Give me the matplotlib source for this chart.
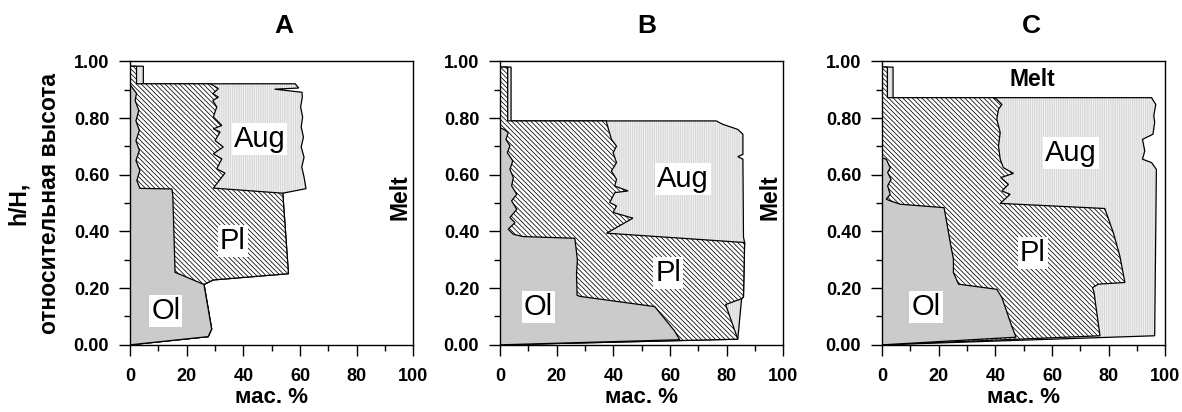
import numpy as np
import matplotlib
matplotlib.use("Agg")
import matplotlib.pyplot as plt
from matplotlib.ticker import MultipleLocator, FormatStrFormatter

plt.rcParams.update({"font.family": ["Liberation Sans", "DejaVu Sans"],
                     "hatch.linewidth": 0.55})

# cumulative boundaries (мас. %) vs relative height h/H
# A
A_ol_x = [0, 27.6, 28.8, 26.1, 15.9, 15.1, 14.8, 3.5, 2.4, 3.5, 2.1, 3.3, 2.1, 3.3, 2.1, 3.1, 1.8, 2.3, 0.6, 0]
A_ol_y = [0, 0.029, 0.056, 0.213, 0.256, 0.527, 0.55, 0.552, 0.58, 0.615, 0.65, 0.686, 0.72, 0.756, 0.79,
          0.827, 0.862, 0.887, 0.91, 0.92]
A_pl_x = [0, 27.6, 28.8, 26.1, 29.4, 55.9, 53.9, 29.4, 33.5, 30.6, 32.4, 29.4, 32.9, 30.0, 31.8, 29.4, 32.4,
          29.4, 30.6, 29.2, 31.2, 29.2, 31.2, 29.4, 28.2, 2.3, 2.3, 0]
A_pl_y = [0, 0.029, 0.056, 0.213, 0.229, 0.251, 0.535, 0.553, 0.606, 0.621, 0.656, 0.674, 0.698, 0.721, 0.751,
          0.762, 0.774, 0.804, 0.839, 0.862, 0.874, 0.886, 0.904, 0.915, 0.921, 0.921, 0.983, 0.983]
A_tot_x = [0, 27.6, 28.8, 26.1, 29.4, 55.9, 53.9, 62.1, 61.4, 60.6, 61.4, 60.4, 61.2, 60.4, 60.9, 60.2, 60.8,
           60.7, 51.0, 59.5, 58.3, 4.7, 4.7, 0]
A_tot_y = [0, 0.029, 0.056, 0.213, 0.229, 0.251, 0.535, 0.551, 0.592, 0.627, 0.662, 0.698, 0.733, 0.768, 0.804,
           0.839, 0.874, 0.891, 0.902, 0.906, 0.921, 0.921, 0.983, 0.983]
# B
B_ol_x = [0, 63.4, 61.6, 56.3, 54.6, 28.2, 27.2, 27.0, 27.3, 26.6, 26.4, 8.2, 4.7, 2.9, 5.3, 3.5, 5.9, 4.1, 5.9,
          4.1, 4.7, 3.5, 4.5, 2.6, 3.5, 2.1, 2.9, 1.4, 0]
B_ol_y = [0, 0.018, 0.049, 0.114, 0.135, 0.171, 0.175, 0.25, 0.30, 0.36, 0.376, 0.382, 0.39, 0.408, 0.431,
          0.449, 0.478, 0.508, 0.531, 0.561, 0.59, 0.619, 0.649, 0.678, 0.702, 0.725, 0.749, 0.76, 0.766]
B_pl_x = [0, 83.9, 79.6, 85.3, 85.9, 86.3, 37.6, 46.9, 39.9, 41.1, 38.7, 40.5, 45.2, 40.5, 41.1, 39.3, 41.1,
          39.9, 41.1, 39.3, 37.6, 37.6, 2.7, 2.7, 0]
B_pl_y = [0, 0.02, 0.142, 0.163, 0.17, 0.361, 0.394, 0.447, 0.467, 0.49, 0.502, 0.537, 0.543, 0.56, 0.584,
          0.613, 0.643, 0.678, 0.701, 0.725, 0.784, 0.79, 0.79, 0.98, 0.98]
B_tot_x = [0, 83.9, 85.2, 85.9, 86.3, 85.9, 85.7, 83.9, 85.7, 85.7, 83.9, 78.6, 76.3, 3.9, 3.9, 0]
B_tot_y = [0, 0.02, 0.16, 0.17, 0.361, 0.38, 0.655, 0.664, 0.672, 0.743, 0.76, 0.778, 0.79, 0.79, 0.98, 0.98]
# C
C_ol_x = [0, 47.3, 45.8, 42.3, 40.5, 27.0, 25.2, 25.2, 24.3, 21.9, 6.5, 2.9, 1.5, 2.9, 2.0, 3.2, 2.0, 2.9, 1.5, 0]
C_ol_y = [0, 0.027, 0.065, 0.167, 0.196, 0.214, 0.255, 0.302, 0.349, 0.484, 0.496, 0.508, 0.514, 0.531, 0.561,
          0.584, 0.608, 0.625, 0.655, 0.66]
C_pl_x = [0, 76.9, 74.8, 74.3, 76.3, 85.7, 83.9, 81.6, 78.6, 41.7, 45.2, 42.3, 44.6, 41.9, 46.4, 42.8, 41.7,
          41.1, 41.7, 40.5, 41.1, 42.3, 40.5, 39.3, 1.9, 1.9, 0]
C_pl_y = [0, 0.032, 0.185, 0.202, 0.214, 0.22, 0.314, 0.396, 0.481, 0.499, 0.531, 0.543, 0.566, 0.59, 0.605,
          0.625, 0.655, 0.702, 0.749, 0.796, 0.831, 0.848, 0.866, 0.872, 0.872, 0.98, 0.98]
C_tot_x = [0, 96.2, 96.8, 95.1, 91.9, 92.7, 91.9, 95.6, 96.2, 95.9, 96.6, 95.1, 3.9, 3.9, 0]
C_tot_y = [0, 0.032, 0.619, 0.643, 0.655, 0.684, 0.725, 0.743, 0.784, 0.81, 0.848, 0.872, 0.872, 0.98, 0.98]

panels = [
    ("A", (A_ol_x, A_ol_y), (A_pl_x, A_pl_y), (A_tot_x, A_tot_y),
     {"Aug": (45.7, 0.727), "Pl": (36.2, 0.367), "Ol": (12.6, 0.118)}, "side"),
    ("B", (B_ol_x, B_ol_y), (B_pl_x, B_pl_y), (B_tot_x, B_tot_y),
     {"Aug": (64.6, 0.584), "Pl": (59.3, 0.255), "Ol": (13.5, 0.132)}, "side"),
    ("C", (C_ol_x, C_ol_y), (C_pl_x, C_pl_y), (C_tot_x, C_tot_y),
     {"Aug": (66.7, 0.678), "Pl": (53.2, 0.325), "Ol": (15.5, 0.132)}, "top"),
]
lefts = [130 / 1182, 500 / 1182, 882 / 1182]
title_x = [0.544, 0.517, 0.528]

fig = plt.figure(figsize=(11.82, 4.12), dpi=100)
for i, (name, ol, pl, tot, labs, melt) in enumerate(panels):
    ax = fig.add_axes([lefts[i], 0.163, 0.2398, 0.688])
    # Aug (total crystals): light fine vertical texture
    ax.fill(tot[0], tot[1], facecolor="#f2f2f2", edgecolor="#cfcfcf", hatch="|" * 9, lw=0, zorder=1)
    ax.fill(tot[0], tot[1], facecolor="none", edgecolor="black", lw=0.9, zorder=2)
    # Pl
    ax.fill(pl[0], pl[1], facecolor="white", edgecolor="black", hatch="\\" * 7, lw=0.9, zorder=3)
    # Ol
    ax.fill(ol[0], ol[1], facecolor="#cbcbcb", edgecolor="black", lw=0.9, zorder=4)
    for txt, (lx, ly) in labs.items():
        ax.text(lx, ly, txt, fontsize=21, ha="center", va="center", zorder=6,
                bbox=dict(facecolor="white", edgecolor="none", pad=1.5))
    if melt == "side":
        ax.text(0.953, 0.522, "Melt", transform=ax.transAxes, rotation=90, fontsize=16.5,
                fontweight="bold", ha="center", va="center")
    else:
        ax.text(53, 0.937, "Melt", fontsize=16.5, fontweight="bold", ha="center", va="center", zorder=6)
    ax.text(title_x[i], 1.124, name, transform=ax.transAxes, fontsize=19, fontweight="bold",
            ha="center", va="center")
    ax.set_xlim(0, 100)
    ax.set_ylim(0, 1)
    ax.xaxis.set_major_locator(MultipleLocator(20))
    ax.xaxis.set_minor_locator(MultipleLocator(10))
    ax.yaxis.set_major_locator(MultipleLocator(0.2))
    ax.yaxis.set_minor_locator(MultipleLocator(0.1))
    ax.yaxis.set_major_formatter(FormatStrFormatter("%.2f"))
    ax.tick_params(which="major", length=8, width=1, direction="out")
    ax.tick_params(which="minor", length=4.5, width=1, direction="out")
    ax.tick_params(axis="x", which="major", pad=9)
    ax.tick_params(axis="y", which="major", pad=7)
    for lab in ax.get_xticklabels() + ax.get_yticklabels():
        lab.set_fontsize(13)
        lab.set_fontweight("bold")
    for sp in ax.spines.values():
        sp.set_linewidth(1.0)
        sp.set_zorder(7)
    ax.set_xlabel("мас. %", fontsize=16, fontweight="bold", labelpad=1)
    if i == 0:
        ax.set_ylabel("h/H,\nотносительная высота", fontsize=16.5, fontweight="bold", labelpad=9,
                      linespacing=1.45)

fig.savefig("out.png", dpi=100)
